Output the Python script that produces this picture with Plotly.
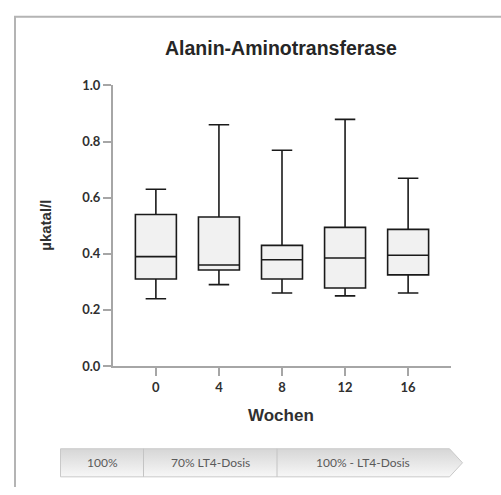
import plotly.graph_objects as go

# Alanin-Aminotransferase (µkatal/l) per week, five-number summaries
weeks = ["0", "4", "8", "12", "16"]
lower_whisker = [0.24, 0.29, 0.26, 0.25, 0.26]
q1_values = [0.31, 0.342, 0.31, 0.278, 0.325]
median_values = [0.39, 0.36, 0.379, 0.385, 0.395]
q3_values = [0.54, 0.531, 0.43, 0.494, 0.487]
upper_whisker = [0.63, 0.86, 0.769, 0.879, 0.669]

y_ticks = [0.0, 0.2, 0.4, 0.6, 0.8, 1.0]
phase_labels = ["100%", "70% LT4-Dosis", "100% - LT4-Dosis"]

W, H = 501, 495
AXIS_GREY = "#a6a6a6"
TEXT_DARK = "#303030"


def px_x(v):
    return v / W


def px_y(v):
    return 1 - v / H


fig = go.Figure()

fig.add_trace(go.Box(
    x=weeks,
    q1=q1_values,
    median=median_values,
    q3=q3_values,
    lowerfence=lower_whisker,
    upperfence=upper_whisker,
    width=0.65,
    whiskerwidth=0.5,
    fillcolor="#f1f1f1",
    line=dict(color="#1a1a1a", width=1.6),
    boxpoints=False,
    hoverinfo="skip",
    showlegend=False,
))

# Treatment phase arrow drawn on a full-figure overlay axis (pixel units)
bar_left, bar_right, bar_tip = 60.5, 449.5, 462.5
bar_top, bar_bottom = 455.5, 484.5
bar_mid = (bar_top + bar_bottom) / 2
dividers = [143.5, 277]
fig.add_trace(go.Scatter(
    x=[bar_left, bar_right, bar_tip, bar_right, bar_left, bar_left],
    y=[bar_top, bar_top, bar_mid, bar_bottom, bar_bottom, bar_top],
    xaxis="x2", yaxis="y2",
    mode="lines",
    fill="toself",
    fillgradient=dict(type="vertical",
                      colorscale=[[0, "#f7f7f7"], [1, "#d6d6d6"]]),
    line=dict(color="#c9c9c9", width=1),
    hoverinfo="skip",
    showlegend=False,
))
for dx in dividers:
    fig.add_trace(go.Scatter(
        x=[dx, dx], y=[bar_top, bar_bottom],
        xaxis="x2", yaxis="y2", mode="lines",
        line=dict(color="#c4c4c4", width=1),
        hoverinfo="skip", showlegend=False,
    ))

# Page frame (top and left edges) drawn as a polyline on the overlay axis
frame_x = [W + 10, 15, 15]
frame_y = [9, 9, H + 10]
fig.add_trace(go.Scatter(
    x=frame_x, y=frame_y, xaxis="x2", yaxis="y2", mode="lines",
    line=dict(color="#b4b4b4", width=2),
    hoverinfo="skip", showlegend=False, cliponaxis=True,
))

segment_edges = [bar_left] + dividers + [bar_right]
annotations = []
for i, label in enumerate(phase_labels):
    cx = (segment_edges[i] + segment_edges[i + 1]) / 2
    annotations.append(dict(
        x=cx, y=bar_mid, xref="x2", yref="y2", text=label, showarrow=False,
        font=dict(family="Lato", size=12, color="#5a5a5a"),
        xanchor="center", yanchor="middle",
    ))

annotations += [
    dict(x=px_x(281), y=px_y(41), xref="paper", yref="paper",
         text="<b>Alanin-Aminotransferase</b>", showarrow=False,
         font=dict(family="Liberation Sans", size=19.5, color="#262626"),
         xanchor="center", yanchor="middle"),
    dict(x=px_x(281), y=px_y(421), xref="paper", yref="paper",
         text="<b>Wochen</b>", showarrow=False,
         font=dict(family="Liberation Sans", size=17, color="#303030"),
         xanchor="center", yanchor="middle"),
    dict(x=px_x(46), y=px_y(225), xref="paper", yref="paper",
         text="<b>µkatal/l</b>", showarrow=False, textangle=-90,
         font=dict(family="Liberation Sans", size=15, color="#303030"),
         xanchor="center", yanchor="middle"),
]

fig.update_layout(
    width=W, height=H,
    margin=dict(l=0, r=0, t=0, b=0),
    paper_bgcolor="white",
    plot_bgcolor="rgba(0,0,0,0)",
    xaxis=dict(
        domain=[px_x(113), px_x(451)],
        type="category",
        range=[-0.68, 4.68],
        showline=True, linecolor=AXIS_GREY, linewidth=2,
        ticks="outside", ticklen=8, tickwidth=2, tickcolor=AXIS_GREY,
        tickfont=dict(family="Lato", size=13, color=TEXT_DARK, weight="bold"),
        showgrid=False, zeroline=False, fixedrange=True,
    ),
    yaxis=dict(
        domain=[px_y(370), px_y(80)],
        range=[0, 1.0],
        tickvals=y_ticks,
        tickformat=".1f",
        showline=True, linecolor=AXIS_GREY, linewidth=2,
        ticks="outside", ticklen=8, tickwidth=2, tickcolor=AXIS_GREY,
        tickfont=dict(family="Lato", size=13, color=TEXT_DARK, weight="bold"),
        showgrid=False, zeroline=False, fixedrange=True,
    ),
    xaxis2=dict(domain=[0, 1], range=[0, W], visible=False, anchor="y2",
                fixedrange=True),
    yaxis2=dict(domain=[0, 1], range=[H, 0], visible=False, anchor="x2",
                fixedrange=True),
    annotations=annotations,
)

fig.write_html(
    "out.html",
    config={"displayModeBar": False},
    post_script="document.body.style.margin='0';"
                "document.body.style.overflow='hidden';"
                "document.documentElement.style.overflow='hidden';",
)
